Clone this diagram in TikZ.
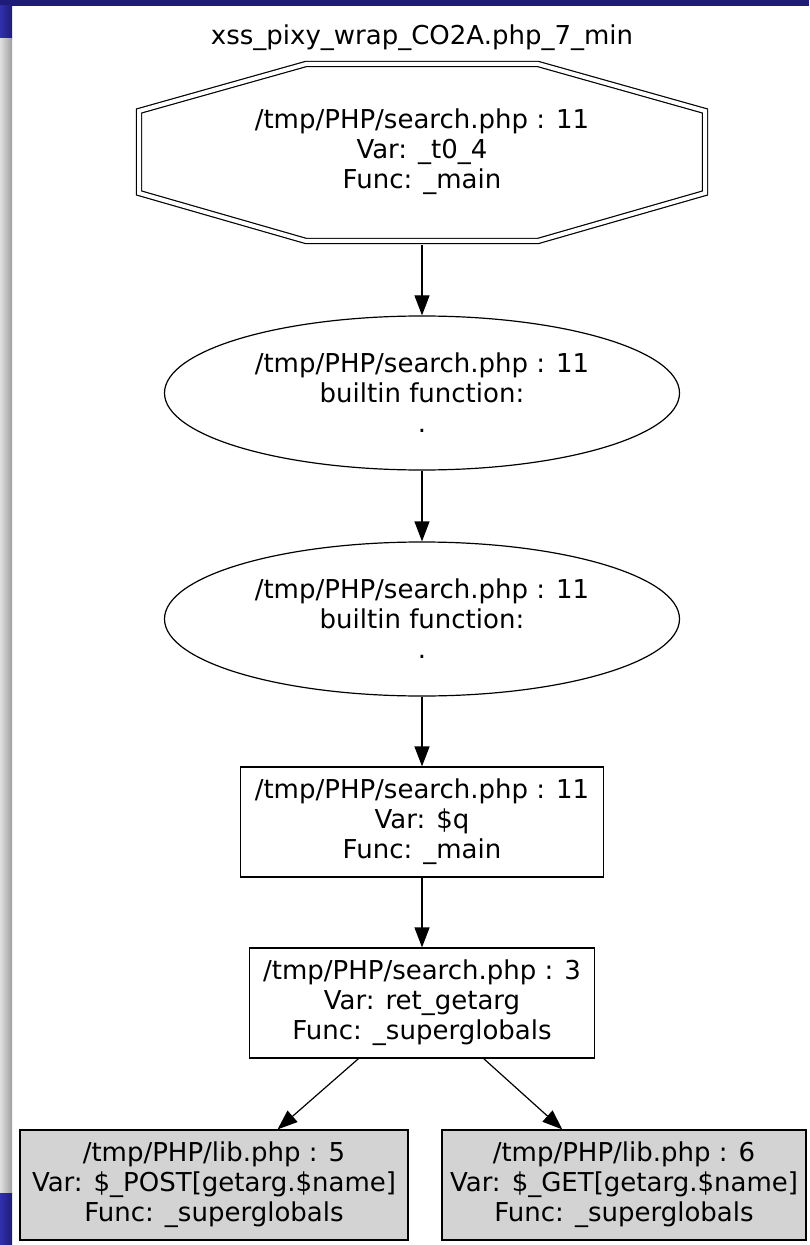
\documentclass[tikz,border=0pt]{standalone}
\usepackage{fontspec}
\setmainfont{DejaVu Sans}
\usetikzlibrary{positioning,arrows.meta,calc,shapes.geometric}
\definecolor{cSlide}{RGB}{30,28,120}
\definecolor{cSlideHi}{RGB}{48,48,175}
\definecolor{cSrc}{RGB}{211,211,211}

\begin{document}
\begin{tikzpicture}[x=0.5pt,y=-0.5pt,font=\fontsize{13}{15}\selectfont,
   every node/.style={align=center,inner sep=0pt},
   oval/.style={draw,line width=0.6pt,ellipse,minimum width=257.5pt,minimum height=77pt},
   stmt/.style={draw,line width=0.6pt,rectangle,minimum height=55pt},
   src/.style={stmt,fill=cSrc},
   flow/.style={-{Triangle[length=10pt,width=7.5pt]},line width=0.6pt}]
 \useasboundingbox (0,0) rectangle (809,1245);
 % slide frame pieces
 \fill[cSlide] (0,0) rectangle (809,6);
 \shade[left color=cSlideHi,right color=cSlide] (0,6) rectangle (12,39);
 \shade[left color=black!12,right color=black!38] (0,39) rectangle (12,1193);
 \shade[left color=cSlideHi,right color=cSlide] (0,1193) rectangle (12,1245);
 % graph title
 \node (title) at (422,38) {xss\_pixy\_wrap\_CO2A.php\_7\_min};
 % sink: double octagon
 \node[minimum width=287.5pt,minimum height=92.5pt] (sink) at (422,152)
   {/tmp/PHP/search.php : 11\\Var: \_t0\_4\\Func: \_main};
 \draw[double,double distance=2pt,line width=0.6pt]
   ($(sink)+(-116,-88)$) -- ($(sink)+(116,-88)$) -- ($(sink)+(283,-41)$)
   -- ($(sink)+(283,41)$) -- ($(sink)+(116,89)$) -- ($(sink)+(-116,89)$)
   -- ($(sink)+(-283,41)$) -- ($(sink)+(-283,-41)$) -- cycle;
 % builtin calls
 \node[oval] (bi1) at (422,393) {/tmp/PHP/search.php : 11\\builtin function:\\.};
 \node[oval] (bi2) at (422,619) {/tmp/PHP/search.php : 11\\builtin function:\\.};
 % assignments
 \node[stmt,minimum width=181.5pt] (varq) at (422,822)
   {/tmp/PHP/search.php : 11\\Var: \$q\\Func: \_main};
 \node[stmt,minimum width=172.5pt] (ret) at (422,1003)
   {/tmp/PHP/search.php : 3\\Var: ret\_getarg\\Func: \_superglobals};
 % sources
 \node[src,minimum width=194pt] (post) at (214,1185)
   {/tmp/PHP/lib.php : 5\\Var: \$\_POST[getarg.\$name]\\Func: \_superglobals};
 \node[src,minimum width=182pt] (get) at (624,1185)
   {/tmp/PHP/lib.php : 6\\Var: \$\_GET[getarg.\$name]\\Func: \_superglobals};
 % edges
 \draw[flow] (sink.south) -- (bi1);
 \draw[flow] (bi1) -- (bi2);
 \draw[flow] (bi2) -- (varq);
 \draw[flow] (varq) -- (ret);
 \draw[flow] (ret) -- (post);
 \draw[flow] (ret) -- (get);
\end{tikzpicture}
\end{document}
